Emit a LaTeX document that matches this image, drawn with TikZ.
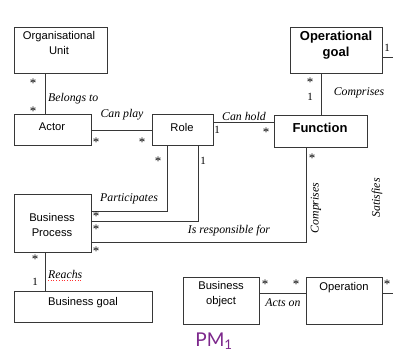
\documentclass[tikz,border=0pt]{standalone}
\usepackage{fontspec}
\setmainfont{Liberation Serif}
\newfontfamily\boxfont{Liberation Sans}
\newfontfamily\pmfont{Lato}
\definecolor{pmpurple}{RGB}{125,40,140}
\definecolor{linegray}{RGB}{55,55,55}
\begin{document}
\begin{tikzpicture}[x=1pt,y=-1pt,
  box/.style={draw=linegray, line width=1pt, anchor=north west, inner sep=0pt},
  btext/.style={font=\boxfont\fontsize{11.2}{15}\selectfont, align=center, inner sep=0pt},
  bbold/.style={font=\boxfont\bfseries\fontsize{13}{16}\selectfont, align=center, inner sep=0pt},
  lbl/.style={font=\itshape\fontsize{11.8}{13}\selectfont, inner sep=0pt},
  mult/.style={font=\fontsize{11}{12}\selectfont, inner sep=0pt},
  star/.style={font=\fontsize{13}{13}\selectfont, inner sep=0pt},
  conn/.style={draw=linegray, line width=1pt}]
\useasboundingbox[fill=white] (0,0) rectangle (393,352);

% boxes
\node[box, minimum width=93pt, minimum height=46pt] (ou) at (14,27) {};
\node[box, minimum width=77pt, minimum height=31pt] (actor) at (14,114) {};
\node[box, minimum width=61pt, minimum height=31pt] (role) at (152,114) {};
\node[box, minimum width=92pt, minimum height=46pt] (og) at (290,27) {};
\node[box, minimum width=93pt, minimum height=32pt] (fn) at (274,115) {};
\node[box, minimum width=77pt, minimum height=58pt] (bp) at (14,194) {};
\node[box, minimum width=138pt, minimum height=31pt] (bg) at (14,291) {};
\node[box, minimum width=76pt, minimum height=47pt] (bo) at (183,277) {};
\node[box, minimum width=76pt, minimum height=47pt] (op) at (306,277) {};

% box texts
\node[btext] (out) at (59,43) {Organisational\\Unit};
\node[btext] (actort) at (52,127) {Actor};
\node[btext] (rolet) at (182,127) {Role};
\node[bbold] (ogt) at (336,45) {Operational\\goal};
\node[bbold] (fnt) at (320,128) {Function};
\node[btext] (bpt) at (52,225) {Business\\Process};
\node[btext] (bgt) at (83,303) {Business goal};
\node[btext] (bot) at (221,294) {Business\\object};
\node[btext] (opt) at (344,288) {Operation};

% free ends at picture border
\coordinate (ogR) at (393,58);
\coordinate (opR) at (393,293);

% connectors
\draw[conn] (ou.south -| 45,0) -- (actor.north -| 45,0);
\draw[conn] (actor.east |- 0,131) -- (role.west |- 0,131);
\draw[conn] (role.east |- 0,123) -- (fn.west |- 0,123);
\draw[conn] (og.south -| 321,0) -- (fn.north -| 321,0);
\draw[conn] (og.east |- ogR) -- (ogR);
\draw[conn] (role.south -| 167,0) |- (bp.east |- 0,212);
\draw[conn] (role.south -| 198,0) |- (bp.east |- 0,222);
\draw[conn] (fn.south -| 306,0) |- (bp.east |- 0,243);
\draw[conn] (bp.south -| 45,0) -- (bg.north -| 45,0);
\draw[conn] (bo.east |- 0,293) -- (op.west |- 0,293);
\draw[conn] (op.east |- opR) -- (opR);

% multiplicities
\node[star] (m1) at (33,83) {*};
\node[star] (m2) at (33,111) {*};
\node[star] (m3) at (96,142) {*};
\node[star] (m4) at (142,142) {*};
\node[mult] (m5) at (217,130) {1};
\node[star] (m6) at (266,132) {*};
\node[star] (m7) at (310,82) {*};
\node[mult] (m8) at (310,97) {1};
\node[mult] (m9) at (387,48) {1};
\node[star] (m10) at (312,158) {*};
\node[star] (m11) at (158,161) {*};
\node[mult] (m12) at (203,161) {1};
\node[star] (m13) at (96,216.5) {*};
\node[star] (m14) at (96,229.5) {*};
\node[star] (m15) at (96,251) {*};
\node[star] (m16) at (35,259) {*};
\node[mult] (m17) at (35,282) {1};
\node[star] (m18) at (265,284) {*};
\node[star] (m19) at (296,284) {*};
\node[star] (m20) at (387,284) {*};

% association labels
\node[lbl, anchor=west] (belongs) at (48,99) {Belongs to};
\node[lbl] (canplay) at (122,115) {Can play};
\node[lbl] (canhold) at (244,116) {Can hold};
\node[lbl] (comp1) at (359,93) {Comprises};
\node[lbl, rotate=90] (comp2) at (316,208) {Comprises};
\node[lbl, rotate=90] (satis) at (377,198) {Satisfies};
\node[lbl] (partic) at (129,199) {Participates};
\node[lbl] (resp) at (229,231) {Is responsible for};
\node[lbl, anchor=west] (reachs) at (48,274) {Reachs};
\draw[red!80, dotted, line width=0.7pt] ([yshift=-2.5pt]reachs.base west) -- ([yshift=-2.5pt]reachs.base east);
\node[lbl] (actson) at (283,303) {Acts on};

% title
\node[font=\pmfont\fontsize{19}{20}\selectfont, text=pmpurple, inner sep=0pt] (pm) at (214,341) {PM\textsubscript{1}};
\end{tikzpicture}
\end{document}
